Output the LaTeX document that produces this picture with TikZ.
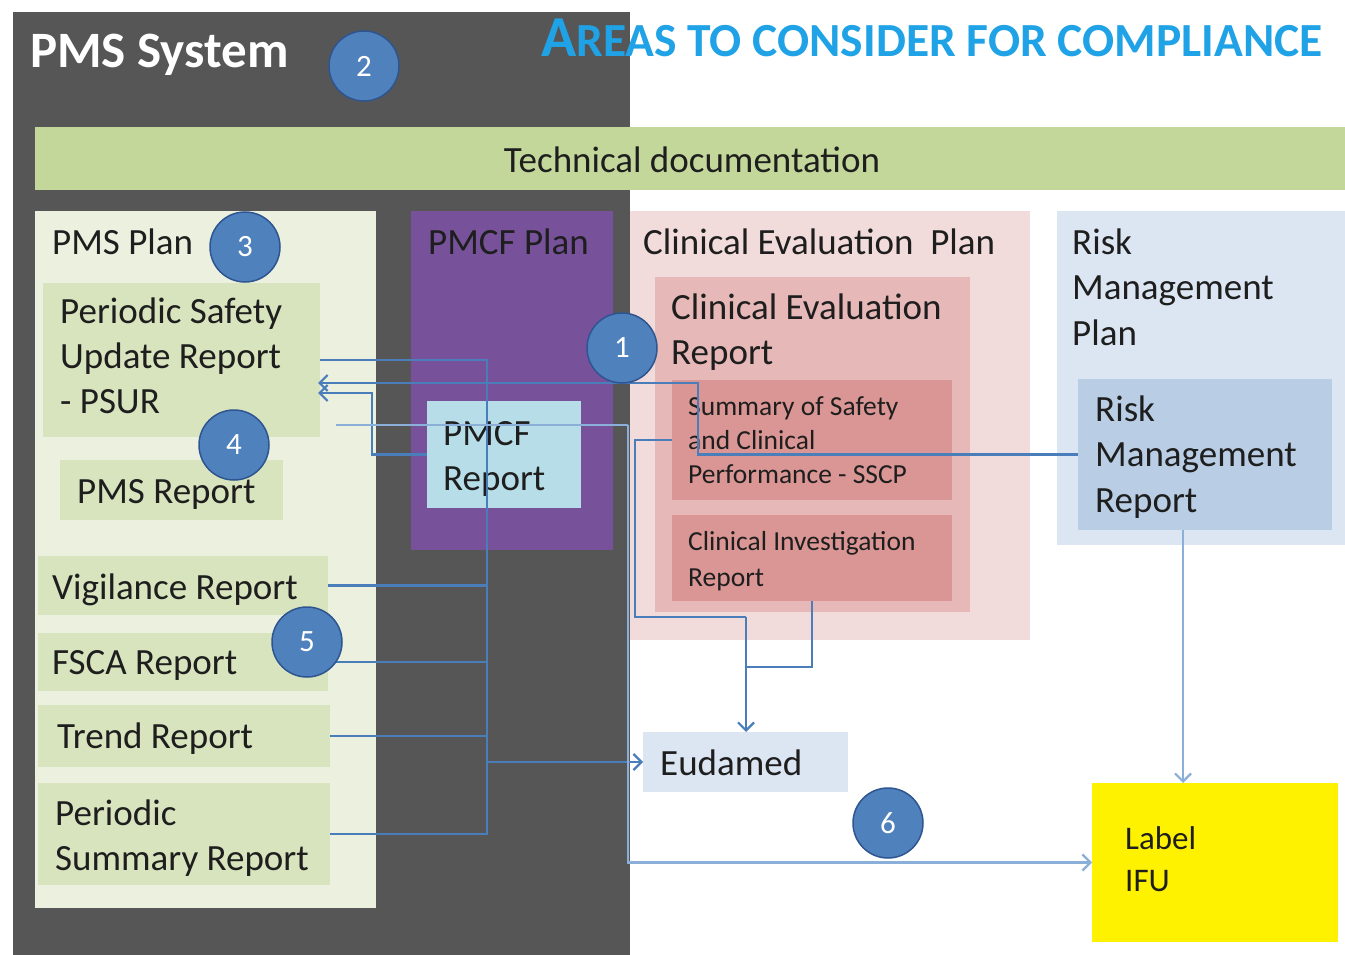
\documentclass[tikz,border=0pt]{standalone}
\usepackage{fontspec}
\setmainfont{Carlito}
\usetikzlibrary{arrows.meta}

\definecolor{panelc}{HTML}{565656}
\definecolor{techc}{HTML}{C4D79B}
\definecolor{pmsplanc}{HTML}{EBF1DE}
\definecolor{greenc}{HTML}{D7E4BD}
\definecolor{purplec}{HTML}{77529B}
\definecolor{pmcfrc}{HTML}{B7DEE8}
\definecolor{cepc}{HTML}{F2DCDB}
\definecolor{cerc}{HTML}{E6B9B8}
\definecolor{sscpc}{HTML}{DA9694}
\definecolor{rmpc}{HTML}{DCE6F2}
\definecolor{rmrc}{HTML}{B9CDE5}
\definecolor{titlec}{HTML}{1FA2E6}
\definecolor{textc}{HTML}{1E1E1E}
\definecolor{linkc}{HTML}{4A7EBB}
\definecolor{linklc}{HTML}{8AAFD8}
\definecolor{circc}{HTML}{4F81BD}
\definecolor{circedge}{HTML}{2E5590}

\newcommand\areabox[6]{%
  \node[areafill,fill=#2,minimum width=#5pt,minimum height=#6pt] (#1) at (#3,#4) {};}

\begin{document}
\begin{tikzpicture}[x=1pt,y=-1pt,
  areafill/.style={draw=none,inner sep=0pt,outer sep=0pt,anchor=north west},
  % multi-line labels are placed by the baseline of their last line
  txt/.style={anchor=base west,inner sep=0pt,align=left,text=textc,
              font=\fontsize{37}{45}\selectfont},
  smalltxt/.style={txt,font=\fontsize{27.5}{34}\selectfont},
  num/.style={circle,fill=circc,draw=circedge,line width=1.5pt,minimum size=70pt,
              inner sep=0pt,text=white,font=\fontsize{31}{31}\selectfont},
  link/.style={draw=linkc,line width=2.2pt},
  linklight/.style={draw=linklc,line width=2.2pt},
  tip/.style={-{Straight Barb[length=8pt,width=16pt]}}]

% canvas
\fill[white] (0,0) rectangle (1345,955);
\useasboundingbox (0,0) rectangle (1345,955);

% PMS system panel
\areabox{panel}{panelc}{13}{12}{617}{943}
\node[anchor=base west,inner sep=0pt,text=white,font=\fontsize{51}{51}\selectfont\bfseries]
  (pmssys) at (30,68) {PMS System};

% heading
\node[anchor=base west,inner sep=0pt,text=titlec,font=\bfseries]
  (heading) at (541,57)
  {{\fontsize{58}{58}\selectfont A}{\fontsize{47.5}{47.5}\selectfont REAS TO CONSIDER FOR COMPLIANCE}};

% technical documentation band
\areabox{techdoc}{techc}{35}{127}{1310}{63}
\node[txt,anchor=center] (techtxt) at (692,160) {Technical documentation};

% PMS plan column
\areabox{pmsplan}{pmsplanc}{35}{211}{341}{697}
\node[txt] (pmsplantxt) at (52,254) {PMS Plan};
\areabox{psur}{greenc}{43}{283}{277}{154}
\node[txt] (psurtxt) at (60,413) {Periodic Safety\\Update Report\\- PSUR};
\areabox{pmsrep}{greenc}{60}{460}{223}{60}
\node[txt] (pmsreptxt) at (77,503) {PMS Report};
\areabox{vig}{greenc}{38}{556}{290}{59}
\node[txt] (vigtxt) at (52,599) {Vigilance Report};
\areabox{fsca}{greenc}{38}{633}{290}{58}
\node[txt] (fscatxt) at (52,674) {FSCA Report};
\areabox{trend}{greenc}{38}{705}{292}{62}
\node[txt] (trendtxt) at (57,748) {Trend Report};
\areabox{psr}{greenc}{38}{783}{292}{102}
\node[txt] (psrtxt) at (55,870) {Periodic\\Summary Report};

% PMCF plan column
\areabox{pmcfplan}{purplec}{411}{211}{202}{339}
\node[txt] (pmcfplantxt) at (428,254) {PMCF Plan};
\areabox{pmcfrep}{pmcfrc}{427}{401}{154}{107}
\node[txt] (pmcfreptxt) at (443,490) {PMCF\\Report};

% clinical evaluation column
\areabox{cep}{cepc}{630}{211}{400}{429}
\node[txt] (ceptxt) at (643,254) {Clinical Evaluation~~Plan};
\areabox{cer}{cerc}{655}{277}{315}{335}
\node[txt] (certxt) at (671,364) {Clinical Evaluation\\Report};
\areabox{sscp}{sscpc}{672}{380}{280}{120}
\node[smalltxt] (sscptxt) at (688,483) {Summary of Safety\\and Clinical\\Performance - SSCP};
\areabox{cir}{sscpc}{672}{515}{280}{86}
\node[smalltxt,font=\fontsize{27.5}{36}\selectfont] (cirtxt) at (688,586) {Clinical Investigation\\Report};

% risk management column
\areabox{rmp}{rmpc}{1057}{211}{288}{334}
\node[txt,font=\fontsize{37}{45.5}\selectfont] (rmptxt) at (1072,345) {Risk\\Management\\Plan};
\areabox{rmr}{rmrc}{1078}{379}{254}{151}
\node[txt,font=\fontsize{37}{45.5}\selectfont] (rmrtxt) at (1095,512) {Risk\\Management\\Report};

% outputs
\areabox{eudamed}{rmpc}{643}{732}{205}{60}
\node[txt] (eudamedtxt) at (660,775) {Eudamed};
\areabox{ifu}{yellow}{1092}{783}{246}{159}
\node[txt,font=\fontsize{33}{42}\selectfont] (ifutxt) at (1125,891) {Label\\IFU};

% connector junction points
\coordinate (busx) at (487,0);
\coordinate (rmrjog) at (698,0);
\coordinate (pmcfjog) at (372,0);
\coordinate (edge) at (628,0);
\coordinate (psurout) at (336,425);
\coordinate (sscpjog) at (635,617);
\coordinate (eudx) at (746,0);
\coordinate (cirjog) at (812,667);

% reports collected into Eudamed
\draw[link] (psur.east) -| (busx |- psr.east) -- (psr.east);
\draw[link] (vig.east) -- (busx |- vig.east);
\draw[link] (fsca.east) -- (busx |- fsca.east);
\draw[link] (trend.east) -- (busx |- trend.east);
\draw[link,tip] (busx |- eudamed.west) -- (eudamed.west);

% feedback into the PSUR
\draw[link,tip] (rmr.west) -- (rmrjog |- rmr.west) -- (rmrjog |- 0,383) -- ([yshift=-23pt,xshift=-2pt]psur.east);
\draw[link,tip] (pmcfrep.west) -- (pmcfjog |- pmcfrep.west) -- (pmcfjog |- 0,393) -- ([yshift=-33pt,xshift=-2pt]psur.east);

% PSUR to label / IFU
\draw[linklight] (psurout) -- (edge |- psurout);
\draw[linklight,tip] (edge |- psurout) -- (edge |- ifu.west) -- (ifu.west);

% clinical reports into Eudamed
\draw[link] (sscp.west) -- (sscpjog |- sscp.west) -- (sscpjog) -- (eudx |- sscpjog);
\draw[link] (cir.south -| cirjog) -- (cirjog) -- (eudx |- cirjog);
\draw[link,tip] (eudx |- sscpjog) -- (eudamed.north -| eudx);

% risk management report to label / IFU
\draw[linklight,tip] ([xshift=-22pt]rmr.south) -- ([xshift=-22pt]rmr.south |- ifu.north);

% numbered markers
\node[num] (n1) at (622,348) {1};
\node[num] (n2) at (364,66) {2};
\node[num] (n3) at (245,247) {3};
\node[num] (n4) at (234,445) {4};
\node[num] (n5) at (307,642) {5};
\node[num] (n6) at (888,823) {6};
\end{tikzpicture}
\end{document}
